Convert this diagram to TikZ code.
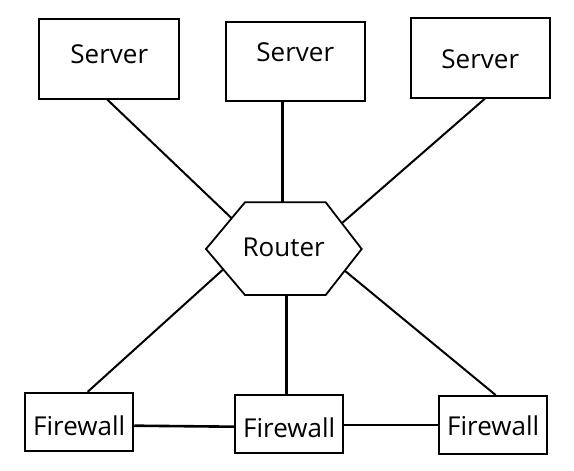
\documentclass[tikz,border=0pt]{standalone}
\usepackage{fontspec}
\setmainfont{Open Sans}
\begin{document}
\begin{tikzpicture}[x=1pt,y=-1pt,
  box/.style={draw, line width=1.8pt, inner sep=0pt, anchor=base, font=\fontsize{26}{30}\selectfont},
  lbl/.style={inner sep=0pt, anchor=base, font=\fontsize{26}{30}\selectfont},
  link/.style={line width=2pt},
  vlink/.style={line width=2.6pt},
  hex/.style={line width=1.8pt, line join=miter}]
\useasboundingbox (0,0) rectangle (574,471);
% servers
\node[box, minimum width=140pt, text height=44.6pt, text depth=35.4pt] (s1) at (109.3,63.3) {Server};
\node[box, minimum width=139.3pt, text height=39pt, text depth=40pt] (s2) at (295.3,61) {Server};
\node[box, minimum width=139.3pt, text height=50.6pt, text depth=29.4pt] (s3) at (480.3,68.3) {Server};
% firewalls
\node[box, minimum width=108.3pt, text height=42.3pt, text depth=15.7pt] (f1) at (79.2,435) {Firewall};
\node[box, minimum width=108.3pt, text height=42.3pt, text depth=15.4pt] (f2) at (289.2,437.3) {Firewall};
\node[box, minimum width=108.3pt, text height=39pt, text depth=19pt] (f3) at (493.2,435) {Firewall};
% router
\node[lbl] (r) at (283.7,256.7) {Router};
\coordinate (rL) at (206,249);
\coordinate (rTL) at (245,202.3);
\coordinate (rTR) at (325.7,202.3);
\coordinate (rR) at (361.7,249);
\coordinate (rBR) at (325.7,295);
\coordinate (rBL) at (245,295);
\draw[hex] (rL) -- (rTL) -- (rTR) -- (rR) -- (rBR) -- (rBL) -- cycle;
\coordinate (r1) at (231.7,218.3);
\coordinate (r2) at (282.3,202.3);
\coordinate (r3) at (341.8,223.3);
\coordinate (r4) at (223.3,269.3);
\coordinate (r5) at (286.3,295);
\coordinate (r6) at (344.8,270.7);
% connectors
\draw[link] ([xshift=-2pt]s1.south) -- (r1);
\draw[vlink] ([xshift=-13pt]s2.south) -- (r2);
\draw[link] ([xshift=4.7pt]s3.south) -- (r3);
\draw[link] (r4) -- ([xshift=8.5pt]f1.north);
\draw[vlink] (r5) -- ([xshift=-2.9pt]f2.north);
\draw[link] (r6) -- ([xshift=2.5pt]f3.north);
\draw[vlink] ([yshift=-4pt]f1.east) -- ([yshift=-2.85pt]f2.west);
\draw[vlink] ([yshift=-1.15pt]f2.east) -- (f3.west);
\end{tikzpicture}
\end{document}
